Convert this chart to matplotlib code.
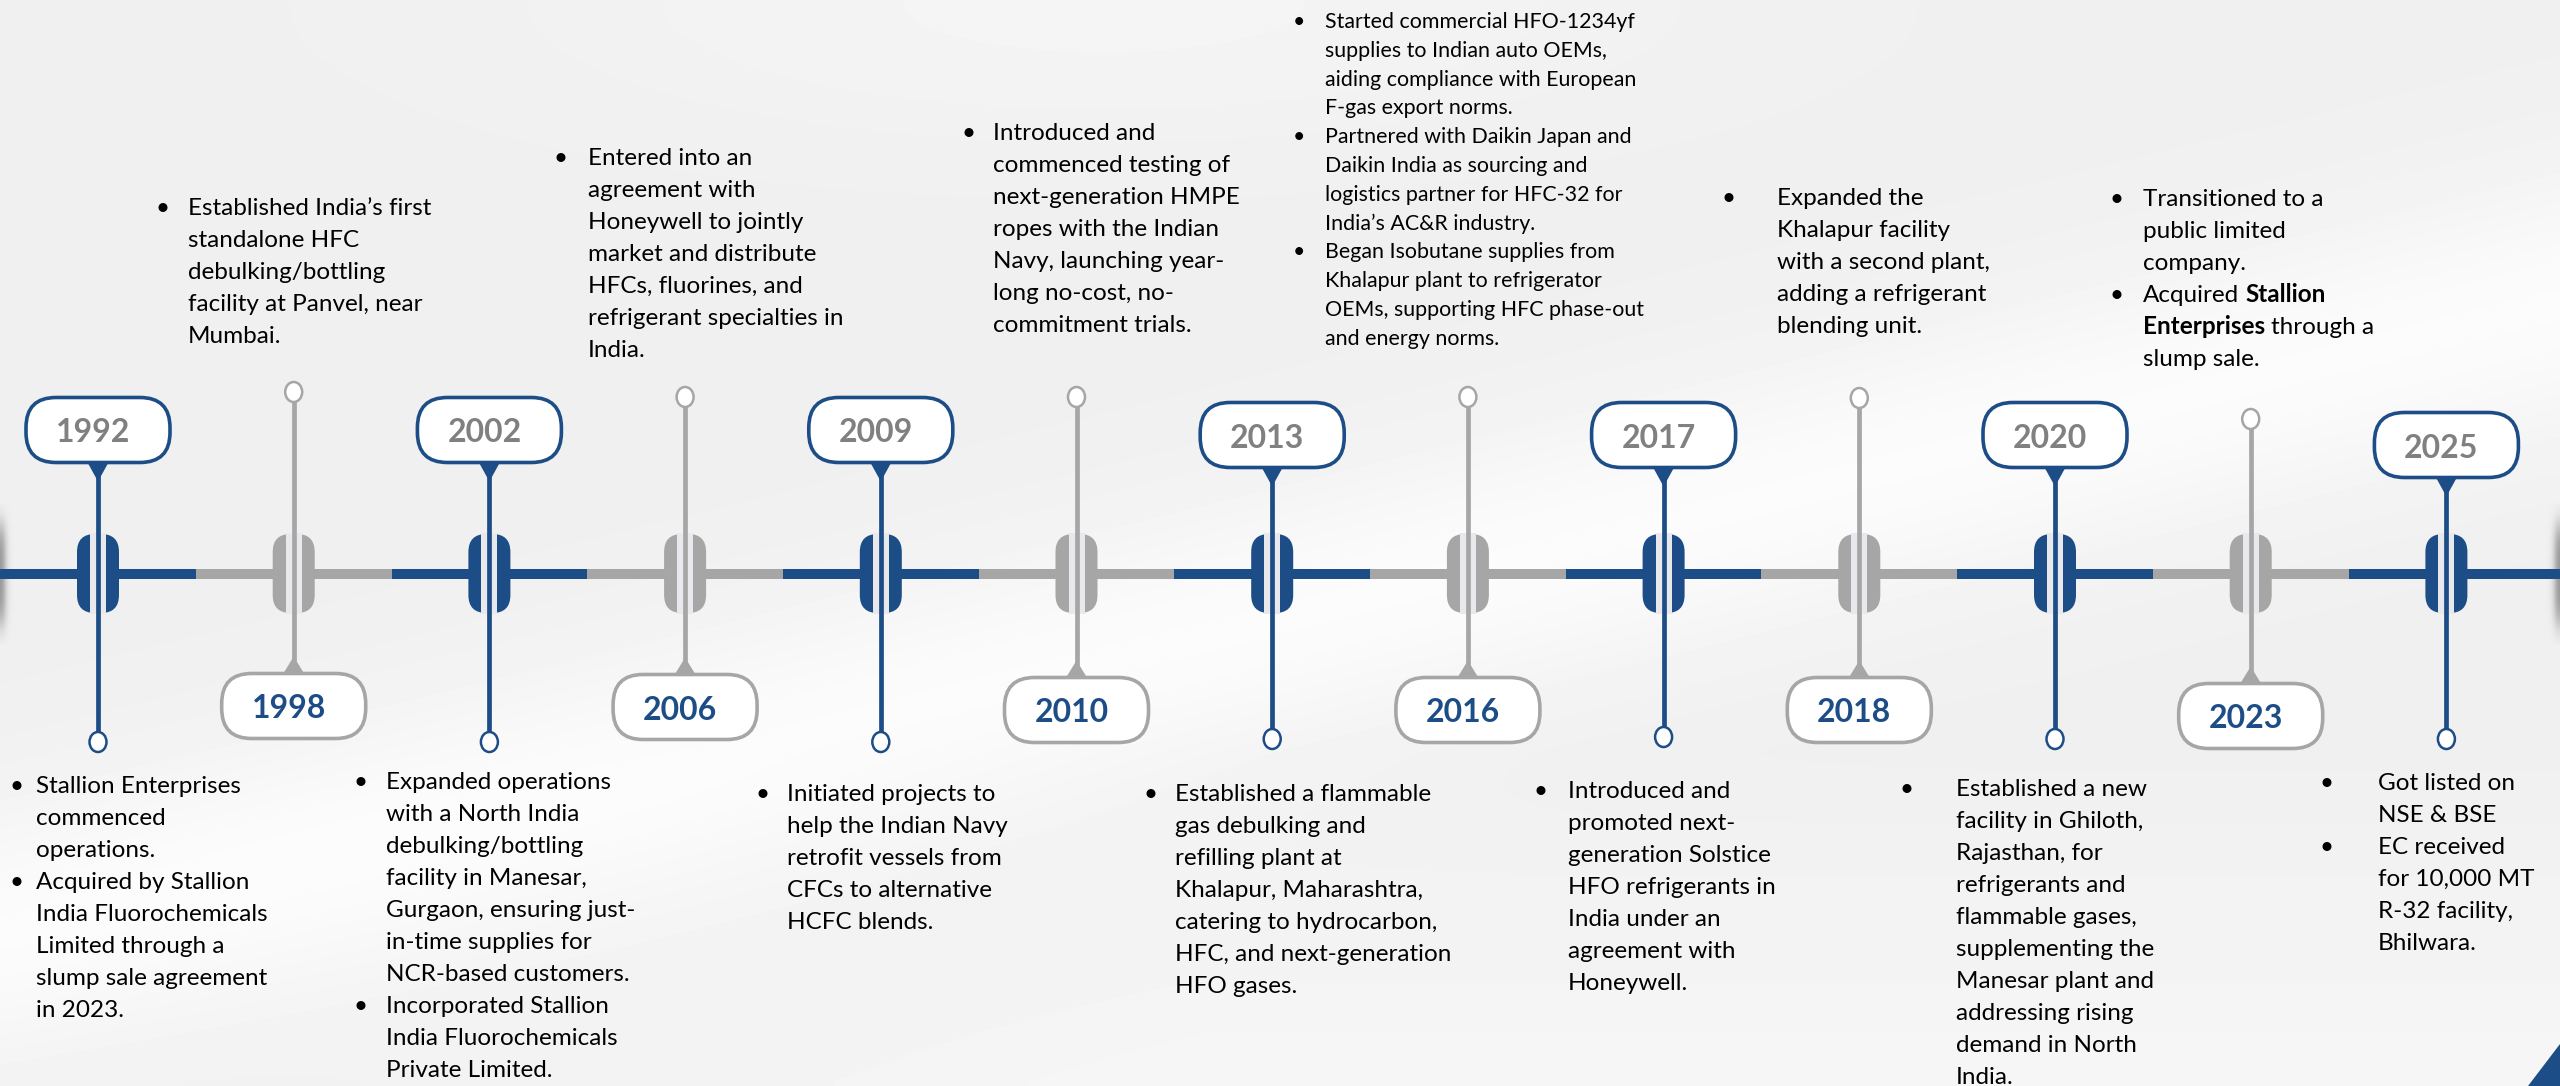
import numpy as np
import matplotlib.pyplot as plt
from matplotlib.patches import FancyBboxPatch, Rectangle, Polygon, Ellipse

plt.rcParams['font.family'] = ['Lato', 'DejaVu Sans']

# canvas in pixels (y grows downward)
W, H = 2560, 1086

BLUE = "#1d4d86"
GREY = "#a6a6a6"
STRIPE = "#e8e8ed"
YEAR_GREY = "#808080"

# === data ====================================================================
years = ["1992", "1998", "2002", "2006", "2009", "2010", "2013",
         "2016", "2017", "2018", "2020", "2023", "2025"]

notes = [
    [["Stallion Enterprises", "commenced", "operations."],
     ["Acquired by Stallion", "India Fluorochemicals", "Limited through a",
      "slump sale agreement", "in 2023."]],
    [["Established India\u2019s first", "standalone HFC", "debulking/bottling",
      "facility at Panvel, near", "Mumbai."]],
    [["Expanded operations", "with a North India", "debulking/bottling",
      "facility in Manesar,", "Gurgaon, ensuring just-", "in-time supplies for",
      "NCR-based customers."],
     ["Incorporated Stallion", "India Fluorochemicals", "Private Limited."]],
    [["Entered into an", "agreement with", "Honeywell to jointly",
      "market and distribute", "HFCs, fluorines, and",
      "refrigerant specialties in", "India."]],
    [["Initiated projects to", "help the Indian Navy", "retrofit vessels from",
      "CFCs to alternative", "HCFC blends."]],
    [["Introduced and", "commenced testing of", "next-generation HMPE",
      "ropes with the Indian", "Navy, launching year-", "long no-cost, no-",
      "commitment trials."]],
    [["Established a flammable", "gas debulking and", "refilling plant at",
      "Khalapur, Maharashtra,", "catering to hydrocarbon,",
      "HFC, and next-generation", "HFO gases."]],
    [["Started commercial HFO-1234yf", "supplies to Indian auto OEMs,",
      "aiding compliance with European", "F-gas export norms."],
     ["Partnered with Daikin Japan and", "Daikin India as sourcing and",
      "logistics partner for HFC-32 for", "India\u2019s AC&R industry."],
     ["Began Isobutane supplies from", "Khalapur plant to refrigerator",
      "OEMs, supporting HFC phase-out", "and energy norms."]],
    [["Introduced and", "promoted next-", "generation Solstice",
      "HFO refrigerants in", "India under an", "agreement with", "Honeywell."]],
    [["Expanded the", "Khalapur facility", "with a second plant,",
      "adding a refrigerant", "blending unit."]],
    [["Established a new", "facility in Ghiloth,", "Rajasthan, for",
      "refrigerants and", "flammable gases,", "supplementing the",
      "Manesar plant and", "addressing rising", "demand in North", "India."]],
    [["Transitioned to a", "public limited", "company."],
     ["Acquired **Stallion**", "**Enterprises** through a", "slump sale."]],
    [["Got listed on", "NSE & BSE"],
     ["EC received", "for 10,000 MT", "R-32 facility,", "Bhilwara."]],
]

# === layout ==================================================================
X0, DX = 98, 195.7
LINE_Y, LINE_T = 574, 10
TAG_W, TAG_H = 144, 65
TAG_Y = [430, 706, 430, 707, 430, 710, 435, 710, 435, 710, 435, 716, 445]
PIN_Y = [742, 392, 742, 397, 742, 397, 739, 397, 737, 398, 739, 419, 739]
BULLET_X = [9, 155, 353, 554, 755, 962, 1143, 1293, 1534, 1721, 1900, 2110, 2320]
TEXT_X = [36, 188, 386, 588, 787, 993, 1175, 1325, 1568, 1777, 1956, 2143, 2378]
TEXT_Y0 = [785, 207, 781, 157, 793, 132, 793, 20, 790, 197, 788, 198, 782]
SMALL = {7}          # the dense 2016 block uses a smaller font

fig = plt.figure(figsize=(W / 100, H / 100), dpi=100)
ax = fig.add_axes([0, 0, 1, 1])
ax.set_xlim(0, W)
ax.set_ylim(H, 0)
ax.axis("off")

# background: light grey with a soft white sweep
gy, gx = np.mgrid[0:H:8, 0:W:8]
p0, p1 = np.array([0, 930]), np.array([W, 300])
d = p1 - p0
dist = np.abs(d[0] * (gy - p0[1]) - d[1] * (gx - p0[0])) / np.hypot(*d)
bg = 0.94 + 0.045 * np.exp(-(dist / 130) ** 2)
bg += 0.025 * np.clip((gy - 750) / 336, 0, 1) * np.clip(gx / 1200, 0, 1)
bg += 0.02 * np.exp(-(((gx - 1100) / 500) ** 2 + (gy / 120) ** 2))
bg = np.clip(bg, 0, 1)
ax.imshow(bg, cmap="gray", vmin=0, vmax=1, extent=(0, W, H, 0),
          interpolation="bilinear", zorder=0, aspect="auto")

# edge shadows
sy, sx = np.mgrid[-70:70:1, 0:16:1]
alpha = 0.55 * np.exp(-(sx / 6.0) ** 2) * np.exp(-(sy / 52.0) ** 4)
sh = np.zeros(sx.shape + (4,))
sh[..., :3] = 0.35
sh[..., 3] = alpha
ax.imshow(sh, extent=(0, 16, LINE_Y + 70, LINE_Y - 70), zorder=1,
          interpolation="bilinear", aspect="auto")
ax.imshow(sh[:, ::-1], extent=(W - 16, W, LINE_Y + 70, LINE_Y - 70), zorder=1,
          interpolation="bilinear", aspect="auto")

# blue corner wedge
ax.add_patch(Polygon([(2528, H), (W, H), (W, 1044)], closed=True,
                     facecolor=BLUE, edgecolor="none", zorder=1))

xs = X0 + DX * np.arange(len(years))


def rich_line(x, y, line, fs):
    """Draw one text line; **...** parts are bold."""
    parts = line.split("**")
    prev = None
    for k, part in enumerate(parts):
        part = part.strip()
        if not part:
            continue
        weight = "bold" if k % 2 else "normal"
        if prev is None:
            prev = ax.text(x, y, part, fontsize=fs, fontweight=weight,
                           va="baseline", ha="left", color="black", zorder=7)
        else:
            prev = ax.annotate(part, xy=(1, 0), xycoords=prev,
                               xytext=(0.26 * fs, 0), textcoords="offset points",
                               fontsize=fs, fontweight=weight, va="bottom",
                               ha="left", color="black", zorder=7)


for i, (yr, x) in enumerate(zip(years, xs)):
    top = i % 2 == 0
    col = BLUE if top else GREY

    # main line segment
    left = 0 if i == 0 else (xs[i - 1] + x) / 2
    right = W if i == len(years) - 1 else (x + xs[i + 1]) / 2
    ax.add_patch(Rectangle((left, LINE_Y - LINE_T / 2), right - left, LINE_T,
                           facecolor=col, edgecolor="none", zorder=2))

    # pill on the line
    ax.add_patch(FancyBboxPatch((x - 21, LINE_Y - 40), 42, 79,
                                boxstyle="round,pad=0,rounding_size=18",
                                facecolor=col, edgecolor="none", zorder=3))
    ax.add_patch(Rectangle((x - 8, LINE_Y - 41), 16, 81, facecolor=STRIPE,
                           edgecolor="none", zorder=4))

    ty = TAG_Y[i]
    if top:
        y_edge = ty + TAG_H / 2
        ax.plot([x, x], [y_edge + 10, PIN_Y[i] - 9], color=col, lw=3.4,
                solid_capstyle="butt", zorder=5)
        ax.add_patch(Polygon([(x - 11, y_edge - 1), (x + 11, y_edge - 1),
                              (x, y_edge + 19)], closed=True, facecolor=col,
                             edgecolor="none", zorder=5))
        txt_col = YEAR_GREY
    else:
        y_edge = ty - TAG_H / 2
        ax.plot([x, x], [PIN_Y[i] + 9, y_edge - 10], color=col, lw=3.4,
                solid_capstyle="butt", zorder=5)
        ax.add_patch(Polygon([(x - 11, y_edge + 1), (x + 11, y_edge + 1),
                              (x, y_edge - 17)], closed=True, facecolor=col,
                             edgecolor="none", zorder=5))
        txt_col = BLUE

    ax.add_patch(Ellipse((x, PIN_Y[i]), 17, 20, facecolor="white",
                         edgecolor=col, linewidth=1.8, zorder=6))

    # year tag
    ax.add_patch(FancyBboxPatch((x - TAG_W / 2, ty - TAG_H / 2), TAG_W, TAG_H,
                                boxstyle="round,pad=0,rounding_size=30",
                                facecolor="white", edgecolor=col,
                                linewidth=2.6, zorder=6))
    ax.text(x - 5, ty + 3, yr, ha="center", va="center", fontsize=23,
            fontweight="bold", color=txt_col, zorder=7)

    # bullet notes
    fs = 15.4 if i in SMALL else 17.5
    lh = 28.8 if i in SMALL else 32
    y = TEXT_Y0[i]
    for bullet in notes[i]:
        ax.text(BULLET_X[i], y + 8, "\u2022", fontsize=fs, va="baseline",
                ha="left", color="black", zorder=7)
        for line in bullet:
            rich_line(TEXT_X[i], y + 8, line, fs)
            y += lh

fig.savefig("out.png", dpi=100)
plt.close(fig)
